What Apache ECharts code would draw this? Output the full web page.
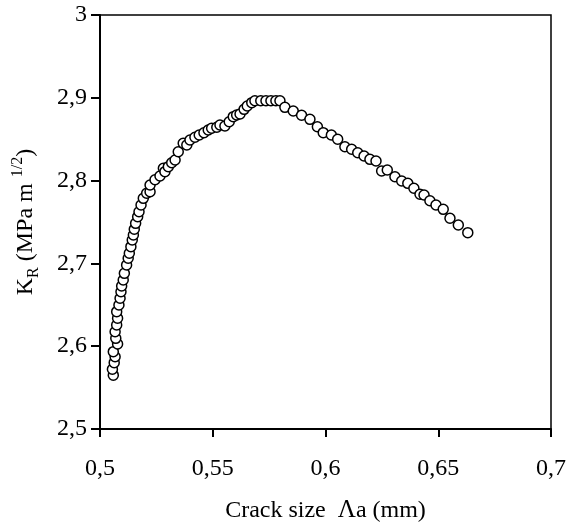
<!DOCTYPE html>
<html>
<head>
<meta charset="utf-8">
<script src="https://cdn.jsdelivr.net/npm/echarts@6/dist/echarts.min.js"></script>
<style>
  html, body { margin: 0; padding: 0; background: #fff; }
  #chart { width: 577px; height: 530px; }
</style>
</head>
<body>
<div id="chart"></div>
<script>
var FONT = 'Liberation Serif';

// crack size (mm)
var crackSize = [
  0.5059, 0.5055, 0.5063, 0.5067, 0.5059, 0.5078, 0.5070, 0.5067, 0.5074, 0.5078,
  0.5074, 0.5084, 0.5089, 0.5093, 0.5096, 0.5103, 0.5108, 0.5118, 0.5125, 0.5130,
  0.5137, 0.5143, 0.5148, 0.5152, 0.5158, 0.5167, 0.5173, 0.5182, 0.5192, 0.5207,
  0.5222, 0.5222, 0.5244, 0.5266, 0.5281, 0.5288, 0.5303, 0.5318, 0.5333, 0.5347,
  0.5369, 0.5385, 0.5399, 0.5421, 0.5440, 0.5461, 0.5480, 0.5495, 0.5518, 0.5532,
  0.5554, 0.5573, 0.5591, 0.5606, 0.5621, 0.5639, 0.5653, 0.5673, 0.5687, 0.5713,
  0.5736, 0.5758, 0.5780, 0.5798, 0.5820, 0.5857, 0.5894, 0.5931, 0.5964, 0.5990,
  0.6026, 0.6054, 0.6086, 0.6116, 0.6143, 0.6171, 0.6197, 0.6224, 0.6249, 0.6274,
  0.6308, 0.6338, 0.6365, 0.6392, 0.6419, 0.6437, 0.6463, 0.6490, 0.6522, 0.6552,
  0.6589, 0.6631
];

// K_R (MPa m^1/2)
var kr = [
  2.5650, 2.5721, 2.5801, 2.5873, 2.5934, 2.6027, 2.6095, 2.6175, 2.6256, 2.6337,
  2.6417, 2.6498, 2.6579, 2.6658, 2.6727, 2.6800, 2.6880, 2.6981, 2.7062, 2.7122,
  2.7202, 2.7283, 2.7343, 2.7412, 2.7484, 2.7564, 2.7624, 2.7705, 2.7786, 2.7847,
  2.7866, 2.7947, 2.8010, 2.8056, 2.8149, 2.8108, 2.8168, 2.8216, 2.8249, 2.8349,
  2.8451, 2.8430, 2.8490, 2.8523, 2.8551, 2.8578, 2.8611, 2.8632, 2.8644, 2.8671,
  2.8659, 2.8711, 2.8772, 2.8792, 2.8804, 2.8861, 2.8901, 2.8941, 2.8965, 2.8965,
  2.8965, 2.8965, 2.8965, 2.8965, 2.8885, 2.8840, 2.8789, 2.8740, 2.8651, 2.8579,
  2.8551, 2.8499, 2.8409, 2.8378, 2.8337, 2.8297, 2.8257, 2.8237, 2.8116, 2.8128,
  2.8047, 2.7995, 2.7967, 2.7907, 2.7835, 2.7826, 2.7757, 2.7705, 2.7653, 2.7545,
  2.7464, 2.7371
];

var xRange = [0.5, 0.7, 0.05];
var yRange = [2.5, 3, 0.1];

function commaLabel(v) {
  return String(+v.toFixed(2)).replace('.', ',');
}

var points = crackSize.map(function (x, i) { return [x, kr[i]]; });

var chart = echarts.init(document.getElementById('chart'), null, { renderer: 'canvas' });

chart.setOption({
  animation: false,
  backgroundColor: '#fff',
  grid: {
    left: 100, right: 26, top: 15, bottom: 101,
    show: true, borderColor: '#000', borderWidth: 1.5, backgroundColor: 'transparent'
  },
  xAxis: {
    type: 'value',
    min: xRange[0], max: xRange[1], interval: xRange[2],
    name: '{t|Crack size  }{l|Λ}{t|a (mm)}',
    nameLocation: 'middle',
    nameGap: 69,
    nameTextStyle: {
      rich: {
        t: { fontFamily: FONT, fontSize: 24, color: '#000' },
        l: { fontFamily: FONT, fontSize: 25, color: '#000' }
      }
    },
    axisLine: { lineStyle: { color: '#000', width: 2 } },
    axisTick: { inside: false, length: 8, lineStyle: { color: '#000', width: 2 } },
    splitLine: { show: false },
    axisLabel: {
      formatter: commaLabel, margin: 28,
      fontFamily: FONT, fontSize: 24, color: '#000'
    }
  },
  yAxis: {
    type: 'value',
    min: yRange[0], max: yRange[1], interval: yRange[2],
    name: '{t|K}{sub|R}{t| (MPa m }{sup|1/2}{t|)}',
    nameLocation: 'middle',
    nameGap: 58,
    nameTextStyle: {
      rich: {
        t: { fontFamily: FONT, fontSize: 24, color: '#000', lineHeight: 32 },
        sub: { fontFamily: FONT, fontSize: 16, color: '#000', verticalAlign: 'bottom', lineHeight: 32 },
        sup: { fontFamily: FONT, fontSize: 16, color: '#000', verticalAlign: 'top', lineHeight: 32 }
      }
    },
    axisLine: { lineStyle: { color: '#000', width: 2 } },
    axisTick: { inside: false, length: 9, lineStyle: { color: '#000', width: 2 } },
    splitLine: { show: false },
    axisLabel: {
      formatter: commaLabel, margin: 13,
      fontFamily: FONT, fontSize: 24, color: '#000'
    }
  },
  series: [{
    type: 'scatter',
    data: points,
    symbol: 'circle',
    symbolSize: 10,
    itemStyle: { color: '#fff', borderColor: '#000', borderWidth: 1.5, opacity: 1 }
  }]
});
</script>
</body>
</html>
